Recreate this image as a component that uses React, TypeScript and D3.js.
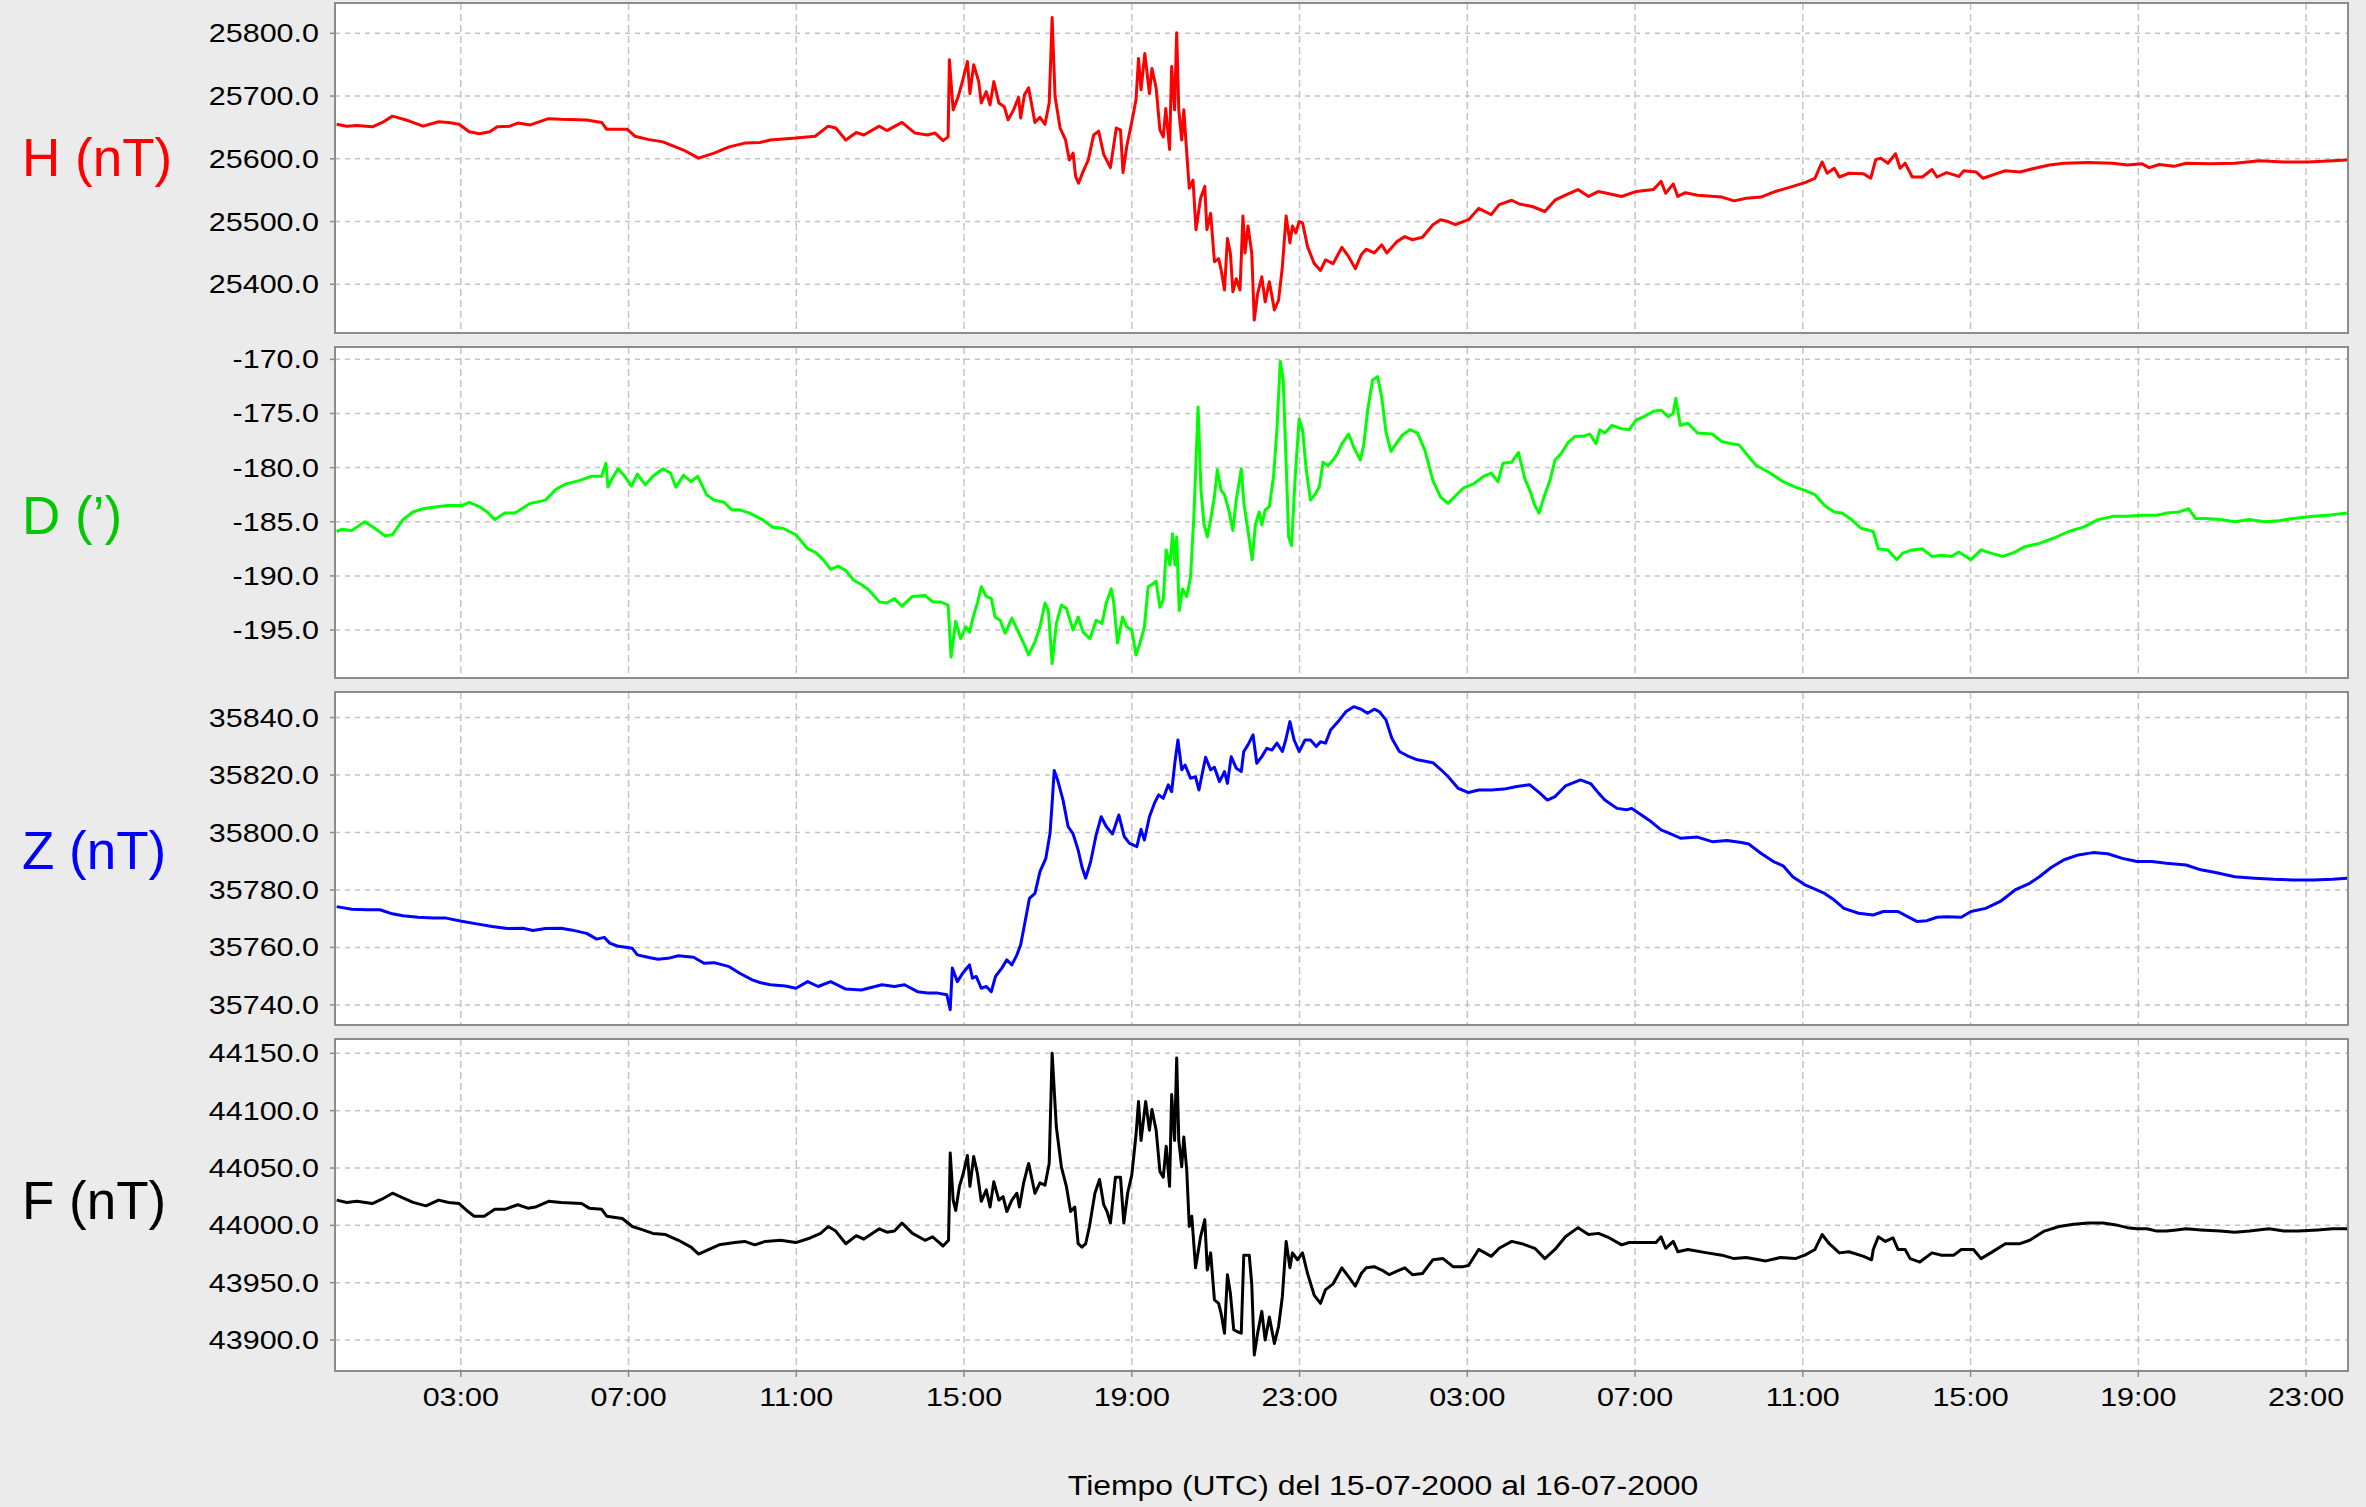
import React from "react";
import * as d3 from "d3";

const W = 2366;
const H = 1507;
const plotLeft = 335;
const plotRight = 2348;

// start of the record, 15-07-2000 00:00 UTC
const start = Date.UTC(2000, 6, 15);
const hourTicks = [3, 7, 11, 15, 19, 23, 27, 31, 35, 39, 43, 47];

// [hours since start, value]
const hData: [number, number][] = [
  [0.04, 25655], [0.28, 25652], [0.52, 25653], [0.89, 25651], [1.13, 25658], [1.37, 25668], [1.74, 25661], [2.1, 25652],
  [2.47, 25659], [2.71, 25658], [2.96, 25655], [3.2, 25643], [3.44, 25640], [3.69, 25643], [3.87, 25651], [4.17, 25652],
  [4.36, 25657], [4.66, 25654], [5.09, 25664], [5.39, 25663], [6.0, 25662], [6.36, 25658], [6.48, 25647], [6.97, 25647],
  [7.15, 25636], [7.46, 25631], [7.82, 25627], [8.31, 25614], [8.67, 25601], [9.04, 25609], [9.4, 25619], [9.77, 25625],
  [10.13, 25626], [10.38, 25630], [10.99, 25633], [11.45, 25636], [11.76, 25652], [11.94, 25649], [12.18, 25630],
  [12.43, 25642], [12.61, 25638], [12.98, 25652], [13.16, 25645], [13.52, 25658], [13.83, 25641], [14.13, 25638],
  [14.31, 25641], [14.5, 25629], [14.62, 25635], [14.65, 25758], [14.74, 25678], [14.86, 25699], [14.96, 25723],
  [15.08, 25755], [15.14, 25704], [15.23, 25750], [15.35, 25723], [15.41, 25689], [15.53, 25707], [15.62, 25686],
  [15.71, 25723], [15.83, 25689], [15.96, 25683], [16.05, 25662], [16.18, 25678], [16.3, 25698], [16.35, 25665],
  [16.44, 25702], [16.54, 25713], [16.69, 25658], [16.81, 25666], [16.93, 25655], [17.03, 25689], [17.1, 25825],
  [17.17, 25699], [17.29, 25649], [17.42, 25630], [17.51, 25598], [17.6, 25609], [17.66, 25572], [17.73, 25561],
  [17.84, 25580], [17.96, 25598], [18.09, 25638], [18.21, 25644], [18.33, 25607], [18.49, 25586], [18.63, 25649],
  [18.73, 25646], [18.79, 25578], [18.88, 25620], [19.0, 25659], [19.1, 25694], [19.16, 25760], [19.22, 25710],
  [19.31, 25768], [19.42, 25704], [19.48, 25744], [19.58, 25713], [19.67, 25646], [19.75, 25635], [19.81, 25680],
  [19.9, 25615], [19.95, 25747], [20.02, 25678], [20.07, 25801], [20.12, 25678], [20.19, 25630], [20.24, 25678],
  [20.31, 25609], [20.37, 25553], [20.46, 25566], [20.53, 25487], [20.64, 25537], [20.74, 25556], [20.79, 25487],
  [20.88, 25513], [20.97, 25436], [21.07, 25441], [21.13, 25423], [21.21, 25391], [21.28, 25473], [21.35, 25450],
  [21.41, 25388], [21.49, 25409], [21.58, 25391], [21.65, 25509], [21.7, 25450], [21.77, 25493], [21.86, 25450],
  [21.92, 25343], [22.0, 25385], [22.1, 25412], [22.18, 25372], [22.28, 25404], [22.4, 25359], [22.5, 25375],
  [22.59, 25428], [22.68, 25509], [22.77, 25466], [22.83, 25493], [22.91, 25482], [22.99, 25500], [23.07, 25498],
  [23.19, 25460], [23.35, 25433], [23.5, 25422], [23.62, 25439], [23.8, 25433], [24.01, 25459], [24.17, 25444],
  [24.33, 25425], [24.47, 25447], [24.59, 25456], [24.78, 25450], [24.96, 25463], [25.08, 25450], [25.32, 25468],
  [25.51, 25476], [25.69, 25471], [25.93, 25475], [26.18, 25495], [26.36, 25503], [26.54, 25500], [26.72, 25495],
  [26.9, 25500], [27.03, 25503], [27.27, 25521], [27.57, 25511], [27.76, 25527], [28.06, 25534], [28.24, 25528],
  [28.55, 25524], [28.85, 25516], [29.09, 25534], [29.34, 25542], [29.64, 25551], [29.89, 25540], [30.13, 25548],
  [30.68, 25540], [31.03, 25548], [31.44, 25551], [31.62, 25564], [31.73, 25545], [31.91, 25560], [32.02, 25540],
  [32.2, 25546], [32.49, 25542], [33.07, 25539], [33.36, 25533], [33.65, 25537], [34.0, 25539], [34.35, 25548],
  [34.76, 25556], [35.05, 25562], [35.29, 25569], [35.46, 25595], [35.58, 25577], [35.75, 25585], [35.87, 25571],
  [36.1, 25577], [36.45, 25576], [36.62, 25569], [36.74, 25599], [36.86, 25601], [37.03, 25593], [37.21, 25608],
  [37.32, 25585], [37.44, 25593], [37.61, 25571], [37.85, 25571], [38.08, 25583], [38.2, 25571], [38.43, 25578],
  [38.72, 25572], [38.84, 25581], [39.13, 25579], [39.3, 25569], [39.6, 25576], [39.83, 25581], [40.18, 25579],
  [40.53, 25585], [40.88, 25590], [41.23, 25593], [41.81, 25594], [42.39, 25593], [42.74, 25590], [43.09, 25592],
  [43.26, 25586], [43.5, 25591], [43.85, 25588], [44.14, 25593], [44.72, 25592], [45.3, 25593], [45.89, 25597],
  [46.47, 25595], [47.05, 25595], [47.63, 25597], [47.98, 25598],
];

const dData: [number, number][] = [
  [0.04, -185.9], [0.16, -185.7], [0.4, -185.8], [0.71, -185.0], [0.95, -185.6], [1.19, -186.3], [1.37, -186.2],
  [1.62, -184.8], [1.86, -184.1], [2.1, -183.8], [2.47, -183.6], [2.71, -183.5], [3.02, -183.5], [3.2, -183.2],
  [3.44, -183.6], [3.63, -184.1], [3.81, -184.8], [4.05, -184.2], [4.29, -184.2], [4.66, -183.3], [5.02, -183.0],
  [5.27, -182.0], [5.51, -181.5], [5.82, -181.2], [6.12, -180.8], [6.36, -180.8], [6.46, -179.6], [6.51, -181.8],
  [6.61, -181.0], [6.75, -180.1], [6.91, -180.8], [7.07, -181.7], [7.21, -180.6], [7.4, -181.6], [7.58, -180.8],
  [7.82, -180.1], [8.0, -180.5], [8.13, -181.8], [8.31, -180.7], [8.49, -181.3], [8.65, -180.8], [8.86, -182.5],
  [9.04, -183.0], [9.28, -183.2], [9.46, -183.9], [9.65, -183.9], [9.89, -184.2], [10.19, -184.8], [10.44, -185.5],
  [10.68, -185.6], [10.99, -186.2], [11.27, -187.5], [11.45, -187.8], [11.64, -188.5], [11.82, -189.4], [12.0, -189.1],
  [12.18, -189.5], [12.37, -190.4], [12.55, -190.8], [12.73, -191.3], [12.98, -192.4], [13.16, -192.5], [13.34, -192.1],
  [13.52, -192.8], [13.77, -191.9], [14.07, -191.8], [14.25, -192.4], [14.44, -192.4], [14.62, -192.7], [14.69, -197.5],
  [14.8, -194.2], [14.92, -195.8], [15.04, -194.7], [15.13, -195.2], [15.23, -193.6], [15.32, -192.5], [15.41, -191.0],
  [15.53, -191.9], [15.65, -192.1], [15.74, -193.8], [15.86, -194.1], [15.98, -195.3], [16.14, -193.9], [16.26, -194.9],
  [16.42, -196.2], [16.54, -197.3], [16.69, -196.1], [16.81, -194.7], [16.93, -192.5], [17.01, -193.2], [17.1, -198.1],
  [17.2, -194.4], [17.32, -192.7], [17.44, -193.0], [17.6, -195.0], [17.72, -193.8], [17.84, -195.2], [18.0, -195.8],
  [18.15, -194.1], [18.29, -194.4], [18.39, -192.5], [18.51, -191.2], [18.57, -192.5], [18.66, -196.2], [18.78, -193.8],
  [18.88, -194.7], [19.0, -195.0], [19.1, -197.3], [19.18, -196.4], [19.3, -194.7], [19.39, -191.0], [19.48, -190.8],
  [19.58, -190.5], [19.67, -192.9], [19.75, -192.2], [19.82, -187.6], [19.91, -189.0], [19.97, -186.1], [20.03, -189.0],
  [20.07, -186.4], [20.13, -193.2], [20.21, -191.2], [20.31, -191.9], [20.4, -190.1], [20.48, -184.5], [20.58, -174.4],
  [20.65, -182.1], [20.72, -185.2], [20.8, -186.4], [20.88, -184.8], [20.97, -182.7], [21.04, -180.2], [21.13, -182.1],
  [21.21, -182.5], [21.31, -183.9], [21.41, -185.8], [21.49, -183.0], [21.61, -180.1], [21.67, -183.2], [21.77, -185.8],
  [21.87, -188.5], [21.95, -185.2], [22.04, -184.1], [22.1, -185.3], [22.18, -183.9], [22.28, -183.6], [22.38, -180.8],
  [22.46, -176.5], [22.54, -170.2], [22.61, -171.9], [22.68, -179.6], [22.74, -186.4], [22.81, -187.2], [22.89, -181.2],
  [22.99, -175.5], [23.07, -176.5], [23.16, -180.2], [23.26, -183.0], [23.38, -182.4], [23.47, -181.8], [23.56, -179.5],
  [23.68, -179.8], [23.8, -179.3], [23.89, -178.8], [24.01, -177.8], [24.17, -176.9], [24.29, -178.1], [24.45, -179.3],
  [24.53, -177.9], [24.62, -174.8], [24.74, -171.9], [24.86, -171.6], [24.96, -173.5], [25.06, -176.7], [25.18, -178.5],
  [25.3, -177.8], [25.45, -177.0], [25.63, -176.5], [25.81, -176.8], [25.99, -178.4], [26.18, -181.2], [26.36, -182.7],
  [26.54, -183.3], [26.72, -182.6], [26.9, -181.9], [27.15, -181.5], [27.39, -180.8], [27.57, -180.5], [27.73, -181.3],
  [27.85, -179.6], [28.06, -179.5], [28.22, -178.6], [28.37, -181.0], [28.49, -182.1], [28.61, -183.5], [28.71, -184.2],
  [28.83, -182.7], [28.97, -181.2], [29.09, -179.3], [29.24, -178.7], [29.4, -177.7], [29.58, -177.1], [29.76, -177.1],
  [29.92, -176.9], [30.07, -177.8], [30.16, -176.5], [30.28, -176.8], [30.45, -176.1], [30.68, -176.4], [30.86, -176.5],
  [31.03, -175.6], [31.21, -175.3], [31.44, -174.8], [31.62, -174.7], [31.79, -175.3], [31.91, -175.0], [31.97, -173.6],
  [32.08, -176.1], [32.26, -175.9], [32.49, -176.8], [32.84, -176.9], [33.07, -177.6], [33.31, -177.8], [33.48, -177.9],
  [33.71, -179.0], [33.89, -179.8], [34.18, -180.4], [34.53, -181.3], [34.82, -181.8], [35.05, -182.1], [35.29, -182.5],
  [35.52, -183.5], [35.75, -184.1], [35.93, -184.2], [36.16, -184.8], [36.39, -185.6], [36.68, -185.9], [36.8, -187.5],
  [37.03, -187.6], [37.24, -188.5], [37.38, -187.9], [37.61, -187.6], [37.85, -187.5], [38.08, -188.2], [38.31, -188.1],
  [38.55, -188.2], [38.72, -187.8], [39.01, -188.5], [39.25, -187.6], [39.48, -187.9], [39.77, -188.2], [40.06, -187.8],
  [40.29, -187.3], [40.64, -187.0], [40.99, -186.5], [41.34, -185.9], [41.69, -185.5], [42.04, -184.8], [42.39, -184.5],
  [42.74, -184.5], [43.09, -184.4], [43.44, -184.4], [43.67, -184.2], [43.96, -184.1], [44.2, -183.8], [44.37, -184.7],
  [44.6, -184.7], [44.95, -184.8], [45.3, -185.0], [45.65, -184.8], [46.0, -185.0], [46.35, -184.9], [46.7, -184.7],
  [47.17, -184.5], [47.52, -184.4], [47.98, -184.2],
];

const zData: [number, number][] = [
  [0.04, 35774.2], [0.4, 35773.3], [0.77, 35773.1], [1.07, 35773.1], [1.37, 35771.7], [1.62, 35771.0], [1.98, 35770.5],
  [2.35, 35770.2], [2.65, 35770.2], [3.02, 35769.1], [3.38, 35768.2], [3.75, 35767.3], [4.11, 35766.6], [4.48, 35766.7],
  [4.72, 35765.9], [5.02, 35766.6], [5.39, 35766.7], [5.63, 35766.1], [6.0, 35764.9], [6.24, 35762.9], [6.42, 35763.5],
  [6.55, 35761.5], [6.73, 35760.5], [7.09, 35759.7], [7.21, 35757.4], [7.46, 35756.6], [7.7, 35755.9], [7.94, 35756.2],
  [8.19, 35757.1], [8.55, 35756.6], [8.8, 35754.5], [9.04, 35754.7], [9.4, 35753.3], [9.65, 35751.0], [9.95, 35748.7],
  [10.13, 35747.8], [10.38, 35747.0], [10.74, 35746.6], [10.99, 35745.8], [11.27, 35748.1], [11.52, 35746.4],
  [11.82, 35748.1], [12.18, 35745.5], [12.55, 35745.2], [13.04, 35747.0], [13.34, 35746.4], [13.58, 35747.0],
  [13.89, 35744.6], [14.13, 35744.1], [14.37, 35744.1], [14.59, 35743.5], [14.67, 35738.3], [14.72, 35752.8],
  [14.84, 35748.1], [14.98, 35751.3], [15.13, 35753.9], [15.2, 35749.3], [15.29, 35749.9], [15.41, 35745.8],
  [15.53, 35746.4], [15.65, 35744.6], [15.75, 35749.9], [15.9, 35752.8], [16.02, 35755.7], [16.14, 35753.9],
  [16.26, 35757.4], [16.35, 35760.9], [16.44, 35767.8], [16.56, 35777.1], [16.69, 35778.8], [16.81, 35786.4],
  [16.95, 35791.0], [17.05, 35799.7], [17.1, 35810.2], [17.15, 35821.6], [17.23, 35818.3], [17.36, 35811.3],
  [17.48, 35802.1], [17.6, 35799.5], [17.72, 35793.9], [17.81, 35788.1], [17.9, 35784.1], [18.02, 35789.9],
  [18.15, 35799.2], [18.27, 35805.5], [18.39, 35802.1], [18.54, 35799.5], [18.69, 35806.1], [18.82, 35798.6],
  [18.94, 35796.3], [19.12, 35795.1], [19.22, 35801.1], [19.3, 35797.4], [19.42, 35805.5], [19.54, 35810.2],
  [19.64, 35813.1], [19.75, 35811.9], [19.87, 35816.6], [19.95, 35814.2], [20.03, 35824.7], [20.1, 35832.2],
  [20.19, 35821.8], [20.27, 35823.5], [20.4, 35818.9], [20.52, 35819.4], [20.6, 35814.8], [20.76, 35826.2],
  [20.88, 35821.8], [20.97, 35822.7], [21.09, 35817.7], [21.21, 35821.2], [21.28, 35817.1], [21.37, 35826.4],
  [21.49, 35822.4], [21.61, 35821.2], [21.67, 35828.2], [21.77, 35830.5], [21.89, 35834.0], [21.98, 35824.1],
  [22.1, 35826.4], [22.22, 35829.3], [22.34, 35828.7], [22.46, 35831.1], [22.59, 35828.2], [22.67, 35832.2],
  [22.77, 35838.6], [22.87, 35832.2], [22.99, 35828.2], [23.13, 35832.2], [23.26, 35832.2], [23.4, 35829.9],
  [23.5, 35831.6], [23.62, 35831.1], [23.74, 35835.7], [23.92, 35838.6], [24.11, 35842.1], [24.29, 35843.8],
  [24.47, 35842.9], [24.62, 35841.5], [24.78, 35842.9], [24.9, 35842.1], [25.06, 35839.2], [25.2, 35832.8],
  [25.38, 35828.2], [25.57, 35826.7], [25.81, 35825.3], [26.18, 35824.3], [26.36, 35822.0], [26.54, 35819.5],
  [26.78, 35815.4], [27.03, 35813.9], [27.27, 35814.8], [27.57, 35814.8], [27.88, 35815.1], [28.18, 35816.0],
  [28.49, 35816.6], [28.73, 35813.7], [28.91, 35811.3], [29.09, 35812.5], [29.34, 35816.2], [29.7, 35818.3],
  [29.95, 35816.9], [30.13, 35813.7], [30.28, 35811.3], [30.57, 35808.4], [30.8, 35807.9], [30.92, 35808.4],
  [31.09, 35806.7], [31.38, 35803.8], [31.62, 35800.9], [31.85, 35799.5], [32.08, 35798.0], [32.49, 35798.4],
  [32.84, 35796.8], [33.19, 35797.2], [33.54, 35796.5], [33.71, 35796.0], [34.0, 35792.8], [34.3, 35789.9],
  [34.53, 35788.4], [34.76, 35784.6], [35.05, 35781.8], [35.29, 35780.3], [35.52, 35778.8], [35.75, 35776.5],
  [35.98, 35773.6], [36.33, 35771.9], [36.68, 35771.3], [36.92, 35772.5], [37.27, 35772.5], [37.5, 35770.7],
  [37.73, 35769.0], [37.96, 35769.3], [38.2, 35770.5], [38.43, 35770.7], [38.78, 35770.5], [39.01, 35772.5],
  [39.36, 35773.6], [39.71, 35776.0], [40.06, 35780.0], [40.41, 35782.3], [40.64, 35784.6], [40.93, 35787.9],
  [41.23, 35790.5], [41.57, 35792.2], [41.92, 35793.0], [42.27, 35792.6], [42.62, 35791.0], [42.97, 35789.9],
  [43.32, 35789.9], [43.67, 35789.3], [44.14, 35788.7], [44.49, 35787.0], [44.84, 35786.1], [45.3, 35784.6],
  [45.77, 35784.1], [46.23, 35783.7], [46.7, 35783.5], [47.17, 35783.5], [47.63, 35783.7], [47.98, 35784.1],
];

const fData: [number, number][] = [
  [0.04, 44022], [0.28, 44020], [0.52, 44021], [0.89, 44019], [1.13, 44023], [1.37, 44028], [1.62, 44024], [1.86, 44020],
  [2.17, 44017], [2.47, 44022], [2.71, 44020], [2.96, 44019], [3.14, 44013], [3.32, 44008], [3.56, 44008], [3.81, 44014],
  [4.05, 44014], [4.36, 44018], [4.6, 44015], [4.78, 44016], [5.09, 44021], [5.39, 44020], [5.88, 44019], [6.06, 44015],
  [6.36, 44014], [6.48, 44008], [6.85, 44006], [7.09, 43999], [7.34, 43996], [7.58, 43993], [7.88, 43992], [8.19, 43987],
  [8.49, 43981], [8.67, 43975], [8.92, 43979], [9.16, 43983], [9.53, 43985], [9.77, 43986], [10.01, 43983], [10.26, 43986],
  [10.62, 43987], [10.99, 43985], [11.33, 43989], [11.58, 43993], [11.76, 43999], [11.94, 43995], [12.18, 43984],
  [12.43, 43991], [12.61, 43988], [12.98, 43997], [13.16, 43994], [13.34, 43995], [13.52, 44002], [13.77, 43993],
  [14.07, 43987], [14.25, 43990], [14.5, 43982], [14.63, 43987], [14.67, 44063], [14.74, 44022], [14.8, 44013],
  [14.89, 44034], [14.98, 44045], [15.08, 44061], [15.14, 44034], [15.23, 44060], [15.32, 44045], [15.41, 44021],
  [15.53, 44031], [15.62, 44016], [15.71, 44038], [15.83, 44022], [15.93, 44025], [16.02, 44012], [16.14, 44022],
  [16.26, 44028], [16.32, 44016], [16.42, 44037], [16.54, 44054], [16.69, 44028], [16.81, 44037], [16.93, 44035],
  [17.03, 44054], [17.1, 44150], [17.2, 44086], [17.32, 44051], [17.44, 44034], [17.54, 44012], [17.64, 44016],
  [17.72, 43984], [17.81, 43981], [17.9, 43984], [17.99, 43999], [18.12, 44028], [18.23, 44040], [18.33, 44018],
  [18.41, 44012], [18.49, 44002], [18.61, 44042], [18.73, 44042], [18.81, 44002], [18.9, 44028], [19.0, 44044],
  [19.1, 44079], [19.16, 44108], [19.22, 44074], [19.33, 44108], [19.42, 44083], [19.48, 44101], [19.58, 44083],
  [19.67, 44047], [19.75, 44042], [19.82, 44069], [19.9, 44034], [19.95, 44114], [20.02, 44074], [20.07, 44146],
  [20.12, 44074], [20.19, 44051], [20.24, 44077], [20.31, 44048], [20.37, 43999], [20.43, 44008], [20.52, 43963],
  [20.64, 43990], [20.74, 44005], [20.8, 43961], [20.88, 43976], [20.97, 43935], [21.07, 43932], [21.13, 43923],
  [21.21, 43906], [21.28, 43957], [21.35, 43941], [21.43, 43909], [21.53, 43907], [21.61, 43906], [21.67, 43974],
  [21.8, 43974], [21.86, 43949], [21.92, 43887], [22.0, 43906], [22.1, 43925], [22.18, 43900], [22.28, 43920],
  [22.4, 43897], [22.5, 43912], [22.59, 43938], [22.68, 43986], [22.77, 43963], [22.83, 43976], [22.95, 43970],
  [23.07, 43976], [23.19, 43958], [23.35, 43939], [23.5, 43932], [23.62, 43944], [23.8, 43949], [24.01, 43963],
  [24.17, 43955], [24.33, 43947], [24.47, 43958], [24.59, 43963], [24.78, 43964], [24.96, 43961], [25.14, 43957],
  [25.32, 43960], [25.51, 43963], [25.69, 43957], [25.93, 43958], [26.18, 43970], [26.42, 43971], [26.66, 43964],
  [26.9, 43964], [27.03, 43965], [27.27, 43979], [27.57, 43973], [27.76, 43980], [28.06, 43986], [28.3, 43984],
  [28.61, 43980], [28.85, 43971], [29.09, 43979], [29.34, 43990], [29.64, 43998], [29.89, 43992], [30.13, 43993],
  [30.39, 43989], [30.68, 43983], [30.86, 43985], [31.21, 43985], [31.5, 43985], [31.62, 43990], [31.73, 43980],
  [31.91, 43986], [32.02, 43977], [32.26, 43979], [32.72, 43976], [33.07, 43974], [33.36, 43971], [33.65, 43972],
  [34.12, 43969], [34.47, 43972], [34.82, 43971], [35.05, 43974], [35.29, 43979], [35.46, 43992], [35.63, 43984],
  [35.87, 43976], [36.1, 43977], [36.45, 43973], [36.64, 43970], [36.68, 43979], [36.8, 43990], [36.97, 43986],
  [37.15, 43989], [37.27, 43979], [37.44, 43979], [37.56, 43971], [37.79, 43968], [38.08, 43976], [38.31, 43974],
  [38.6, 43974], [38.78, 43979], [39.07, 43979], [39.25, 43971], [39.48, 43976], [39.83, 43984], [40.18, 43984],
  [40.41, 43987], [40.76, 43995], [41.11, 43999], [41.46, 44001], [41.81, 44002], [42.16, 44002], [42.51, 44000],
  [42.74, 43998], [42.97, 43997], [43.21, 43997], [43.44, 43995], [43.67, 43995], [43.91, 43996], [44.14, 43997],
  [44.49, 43996], [44.95, 43995], [45.3, 43994], [45.65, 43995], [46.12, 43997], [46.47, 43995], [46.82, 43995],
  [47.28, 43996], [47.63, 43997], [47.98, 43997],
];

const hTicks = [25400, 25500, 25600, 25700, 25800];
const dTicks = [-195, -190, -185, -180, -175, -170];
const zTicks = [35740, 35760, 35780, 35800, 35820, 35840];
const fTicks = [43900, 43950, 44000, 44050, 44100, 44150];

const panels = [
  { label: "H (nT)", labelColor: "#ff0000", color: "#ff0000", data: hData, domain: [25322.4, 25848.3], ticks: hTicks },
  { label: "D (\u2019)", labelColor: "#00c800", color: "#00ff00", data: dData, domain: [-199.43, -168.86], ticks: dTicks },
  { label: "Z (nT)", labelColor: "#0000ff", color: "#0000ff", data: zData, domain: [35733.0, 35848.9], ticks: zTicks },
  { label: "F (nT)", labelColor: "#000000", color: "#000000", data: fData, domain: [43873.0, 44162.5], ticks: fTicks },
];

// layout
const panelTop = [3, 347, 692, 1039];
const panelHeight = [330, 331, 333, 332];
const labelBaseline = [176, 534, 869, 1219];

const toDate = (h: number) => new Date(start + h * 3600e3);

export default function App() {
  const x = d3.scaleUtc().domain([toDate(0), toDate(48)]).range([plotLeft, plotRight]);
  const fmt = d3.utcFormat("%H:%M");
  const xTicks = hourTicks.map(toDate);
  const lastBottom = panelTop[3] + panelHeight[3];

  return (
    <div style={{ position: "absolute", left: 0, top: 0 }}>
      <svg width={W} height={H} style={{ display: "block", fontFamily: "'Liberation Sans', Arial, sans-serif" }}>
        <rect width={W} height={H} fill="#ebebeb" />
        {panels.map((p, i) => {
          const top = panelTop[i];
          const h = panelHeight[i];
          const y = d3.scaleLinear().domain(p.domain).range([top + h, top]);
          const line = d3
            .line<[number, number]>()
            .x((d) => x(toDate(d[0])))
            .y((d) => y(d[1]));
          return (
            <g key={p.label}>
              <rect x={plotLeft} y={top} width={plotRight - plotLeft} height={h} fill="#ffffff" />
              {p.ticks.map((v) => (
                <line key={"gy" + v} x1={plotLeft} x2={plotRight} y1={y(v)} y2={y(v)}
                  stroke="#c4c4c4" strokeWidth={1.5} strokeDasharray="5,5" />
              ))}
              {xTicks.map((d, j) => (
                <line key={"gx" + j} x1={x(d)} x2={x(d)} y1={top} y2={top + h}
                  stroke="#c4c4c4" strokeWidth={1.5} strokeDasharray="7,4" />
              ))}
              <path d={line(p.data) || ""} fill="none" stroke={p.color} strokeWidth={3} strokeLinejoin="round" />
              <rect x={plotLeft} y={top} width={plotRight - plotLeft} height={h} fill="none" stroke="#8c8c8c" strokeWidth={2} />
              {p.ticks.map((v) => (
                <g key={"t" + v}>
                  <line x1={plotLeft - 5} x2={plotLeft} y1={y(v)} y2={y(v)} stroke="#8c8c8c" strokeWidth={1.5} />
                  <g transform={`translate(319,${y(v)}) scale(1.22,1)`}>
                    <text textAnchor="end" dy="0.36em" fontSize={25} fill="#000">{v.toFixed(1)}</text>
                  </g>
                </g>
              ))}
              <text x={22} y={labelBaseline[i]} fontSize={53} fill={p.labelColor}>{p.label}</text>
            </g>
          );
        })}
        {xTicks.map((d, j) => (
          <g key={"xt" + j}>
            <line x1={x(d)} x2={x(d)} y1={lastBottom} y2={lastBottom + 6} stroke="#8c8c8c" strokeWidth={1.5} />
            <g transform={`translate(${x(d)},1406) scale(1.22,1)`}>
              <text textAnchor="middle" fontSize={25} fill="#000">{fmt(d)}</text>
            </g>
          </g>
        ))}
        <g transform="translate(1383,1495) scale(1.14,1)">
          <text textAnchor="middle" fontSize={28} fill="#000">Tiempo (UTC) del 15-07-2000 al 16-07-2000</text>
        </g>
      </svg>
    </div>
  );
}
